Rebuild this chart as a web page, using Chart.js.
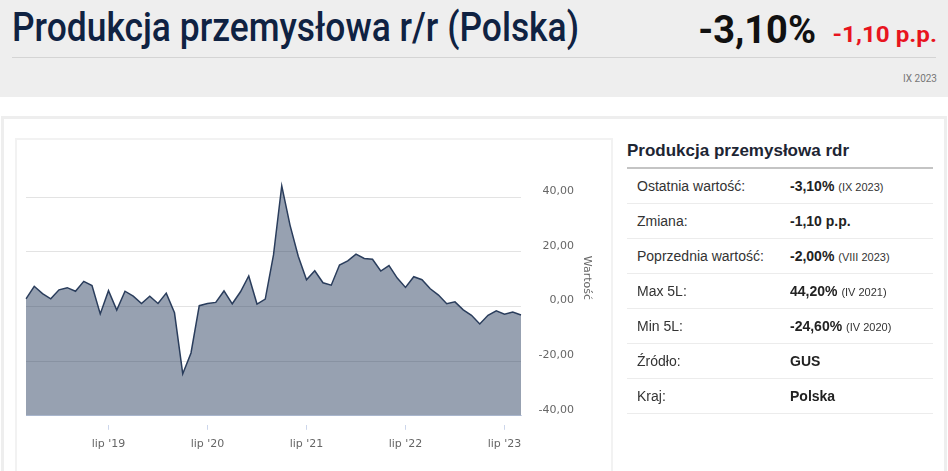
<!DOCTYPE html>
<html lang="pl">
<head>
<meta charset="UTF-8">
<title>Produkcja przemysłowa r/r (Polska)</title>
<script src="https://cdn.jsdelivr.net/npm/chart.js@4"></script>
<style>
  body { margin: 0; width: 948px; height: 471px; overflow: hidden; background: #fff; position: relative;
         font-family: "Liberation Sans", Arial, sans-serif; }
  #header { position: absolute; left: 0; top: 0; width: 948px; height: 97px; background: #eeeeee; }
  #title { position: absolute; left: 12px; top: 8px; line-height: 1; font-family: Roboto, sans-serif; font-weight: 500;
           font-size: 40px; color: #0f2242; white-space: nowrap; transform: scaleX(0.885); transform-origin: left top; }
  #lastValue { position: absolute; right: 132px; top: 11px; line-height: 1; font-family: Roboto, sans-serif; font-weight: 700;
               font-size: 38px; color: #111; white-space: nowrap; }
  #change { position: absolute; right: 11px; top: 24px; line-height: 1; font-family: Roboto, sans-serif; font-weight: 700;
            font-size: 22px; color: #e8141e; white-space: nowrap; transform: scaleX(1.1); transform-origin: right top; }
  #hline { position: absolute; left: 12px; top: 57px; width: 924px; height: 1px; background: #d4d4d4; }
  #period { position: absolute; right: 11px; top: 73px; font-family: Roboto, sans-serif; font-size: 10px; color: #777; }

  #outer { position: absolute; left: 1px; top: 116px; width: 940px; height: 400px; border: 3px solid #eeeeee; }
  #chartBox { position: absolute; left: 15px; top: 138px; width: 594px; height: 400px; border: 2px solid #f2f2f2; }
  #chartWrap { position: absolute; left: 17px; top: 121px; width: 594px; height: 354px; }
  #yTitle { position: absolute; left: 587px; top: 278px; font-family: "DejaVu Sans", sans-serif; font-size: 11px; color: #666;
            white-space: nowrap; transform: translate(-50%, -50%) rotate(90deg); }

  #panelTitle { position: absolute; left: 627px; top: 141px; font-weight: 700; font-size: 17px; color: #1d2533; white-space: nowrap; }
  #panelLine { position: absolute; left: 627px; top: 167px; width: 306px; height: 2px; background: #c4c4c4; }
  #rows { position: absolute; left: 627px; top: 169px; width: 306px; }
  .row { height: 34px; border-bottom: 1px solid #ececec; position: relative; font-size: 14px; }
  .row .lab { position: absolute; left: 10px; top: 9px; color: #333; }
  .row .val { position: absolute; left: 163px; top: 9px; color: #222; font-weight: 700; white-space: nowrap; }
  .row .val small { font-weight: 400; font-size: 11px; color: #333; }
</style>
</head>
<body>
<div id="header">
  <div id="title">Produkcja przemysłowa r/r (Polska)</div>
  <div id="lastValue">-3,10%</div>
  <div id="change">-1,10 p.p.</div>
  <div id="hline"></div>
  <div id="period">IX 2023</div>
</div>

<div id="outer"></div>
<div id="chartBox"></div>
<div id="chartWrap"><canvas id="chart"></canvas></div>
<div id="yTitle">Wartość</div>

<div id="panelTitle">Produkcja przemysłowa rdr</div>
<div id="panelLine"></div>
<div id="rows">
  <div class="row"><span class="lab">Ostatnia wartość:</span><span class="val">-3,10% <small>(IX 2023)</small></span></div>
  <div class="row"><span class="lab">Zmiana:</span><span class="val">-1,10 p.p.</span></div>
  <div class="row"><span class="lab">Poprzednia wartość:</span><span class="val">-2,00% <small>(VIII 2023)</small></span></div>
  <div class="row"><span class="lab">Max 5L:</span><span class="val">44,20% <small>(IV 2021)</small></span></div>
  <div class="row"><span class="lab">Min 5L:</span><span class="val">-24,60% <small>(IV 2020)</small></span></div>
  <div class="row"><span class="lab">Źródło:</span><span class="val">GUS</span></div>
  <div class="row"><span class="lab">Kraj:</span><span class="val">Polska</span></div>
</div>

<script>
// months IX 2018 .. IX 2023
const categories = [
  "wrz '18", "paź '18", "lis '18", "gru '18",
  "sty '19", "lut '19", "mar '19", "kwi '19", "maj '19", "cze '19", "lip '19", "sie '19", "wrz '19", "paź '19", "lis '19", "gru '19",
  "sty '20", "lut '20", "mar '20", "kwi '20", "maj '20", "cze '20", "lip '20", "sie '20", "wrz '20", "paź '20", "lis '20", "gru '20",
  "sty '21", "lut '21", "mar '21", "kwi '21", "maj '21", "cze '21", "lip '21", "sie '21", "wrz '21", "paź '21", "lis '21", "gru '21",
  "sty '22", "lut '22", "mar '22", "kwi '22", "maj '22", "cze '22", "lip '22", "sie '22", "wrz '22", "paź '22", "lis '22", "gru '22",
  "sty '23", "lut '23", "mar '23", "kwi '23", "maj '23", "cze '23", "lip '23", "sie '23", "wrz '23"
];

const values = [
  2.8, 7.4, 4.7, 2.8,
  6.1, 6.9, 5.6, 9.2, 7.7, -2.7, 5.8, -1.3, 5.6, 3.8, 1.1, 3.8,
  1.1, 4.9, -2.3, -24.6, -17.0, 0.3, 1.1, 1.5, 5.7, 1.0, 5.4, 11.2,
  0.9, 2.7, 18.9, 44.2, 29.8, 18.4, 9.8, 13.1, 8.7, 7.8, 15.2, 16.7,
  19.2, 17.6, 17.3, 13.0, 15.0, 10.4, 7.0, 10.9, 9.8, 6.5, 4.2, 1.0,
  1.7, -1.2, -3.2, -6.4, -3.2, -1.6, -2.8, -2.0, -3.1
];

const xTickLabels = ["lip '19", "lip '20", "lip '21", "lip '22", "lip '23"];
const yMin = -40, yMax = 60, yStep = 20;

const axisFont = { family: 'DejaVu Sans', size: 11 };

new Chart(document.getElementById('chart'), {
  type: 'line',
  data: {
    labels: categories,
    datasets: [{
      data: values,
      borderColor: '#2a3d5c',
      borderWidth: 1.5,
      backgroundColor: 'rgba(35,55,90,0.47)',
      fill: 'start',
      pointRadius: 0,
      tension: 0
    }]
  },
  options: {
    responsive: true,
    maintainAspectRatio: false,
    animation: false,
    layout: { padding: { left: 9, right: 37, top: 0, bottom: 16 } },
    plugins: { legend: { display: false }, tooltip: { enabled: false } },
    scales: {
      x: {
        border: { display: true, color: '#ccd6eb' },
        grid: {
          drawOnChartArea: false,
          drawTicks: true,
          tickLength: 14,
          tickBorderDash: [0, 9, 5, 0],
          tickColor: ctx => xTickLabels.includes(categories[ctx.index]) ? '#ccd6eb' : 'rgba(0,0,0,0)'
        },
        ticks: {
          autoSkip: false, maxRotation: 0, minRotation: 0, padding: 8,
          color: '#666', font: axisFont,
          callback: (v, i) => xTickLabels.includes(categories[i]) ? categories[i] : ''
        }
      },
      y: {
        position: 'right',
        min: yMin, max: yMax,
        border: { display: false },
        grid: {
          drawTicks: false,
          color: ctx => (ctx.tick && ctx.tick.value === yMax) ? 'rgba(0,0,0,0)' : '#e3e3e3'
        },
        ticks: {
          stepSize: yStep, padding: 15, crossAlign: 'far', labelOffset: -6,
          color: '#666', font: axisFont,
          callback: v => v === yMax ? '' : v.toFixed(2).replace('.', ',')
        },
        afterFit: scale => { scale.width = 53; }
      }
    }
  }
});
</script>
</body>
</html>
